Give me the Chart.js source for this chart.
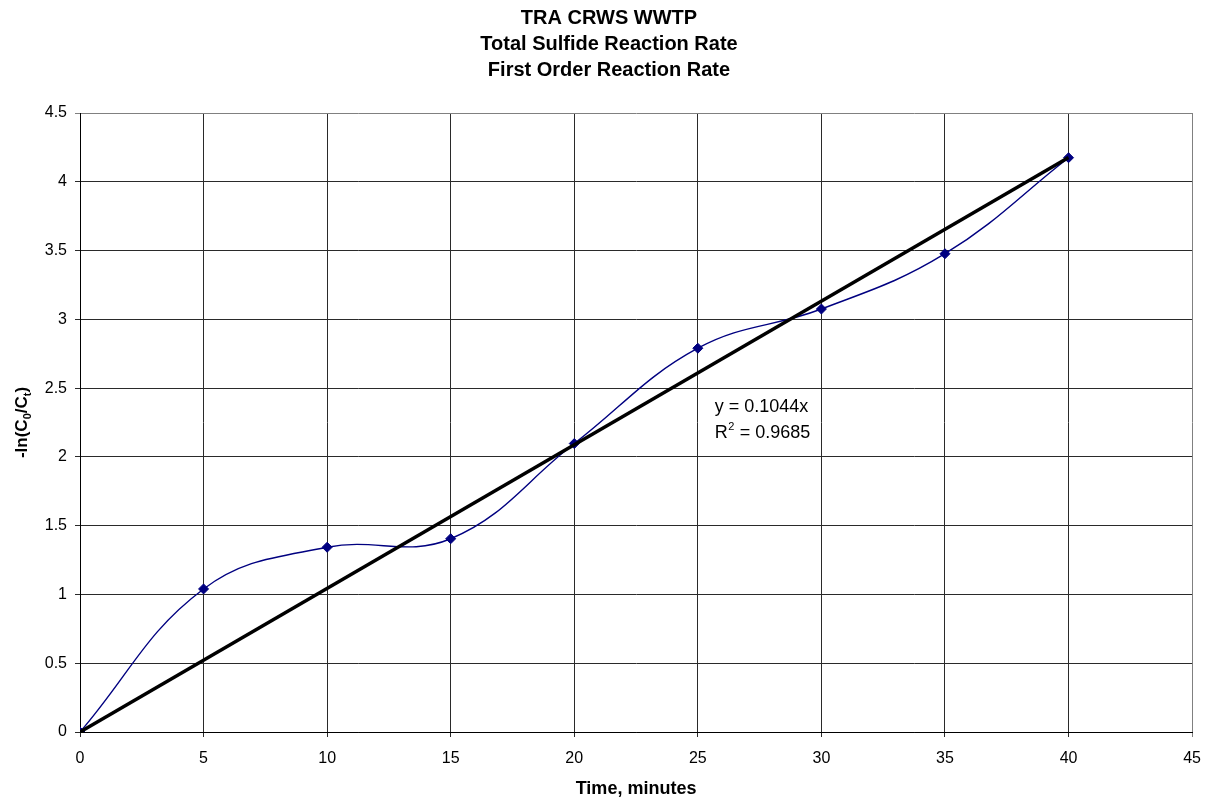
<!DOCTYPE html>
<html>
<head>
<meta charset="utf-8">
<script src="https://cdn.jsdelivr.net/npm/chart.js@4"></script>
<style>
  html, body { margin: 0; padding: 0; background: #fff; }
  #wrap { width: 1213px; height: 804px; }
</style>
</head>
<body>
<div id="wrap"><canvas id="c" width="1213" height="804"></canvas></div>
<script>
// ---- data ----
const titleLines = ['TRA CRWS WWTP', 'Total Sulfide Reaction Rate', 'First Order Reaction Rate'];
const times = [0, 5, 10, 15, 20, 25, 30, 35, 40];
const lnRatio = [0, 1.04, 1.343, 1.405, 2.097, 2.79, 3.075, 3.477, 4.175];
const trendSlope = 0.1044;
const trendR2 = 0.9685;
const trendX = [0, 40];
const xTicks = [0, 5, 10, 15, 20, 25, 30, 35, 40, 45];
const yTicks = [0, 0.5, 1, 1.5, 2, 2.5, 3, 3.5, 4, 4.5];
const xTitle = 'Time, minutes';
const annotAt = { x: 25.68, y: 2.327 };

const FONT = '"Liberation Sans", Arial, Helvetica, sans-serif';

const mainPts = times.map((t, i) => ({ x: t, y: lnRatio[i] }));
const trendPts = trendX.map(x => ({ x: x, y: +(trendSlope * x).toFixed(4) }));

const textPlugin = {
  id: 'texts',
  beforeDraw(chart) {
    const ctx = chart.ctx;
    ctx.save();
    ctx.fillStyle = '#fff';
    ctx.fillRect(0, 0, chart.width, chart.height);
    ctx.restore();
  },
  afterDraw(chart) {
    const ctx = chart.ctx;
    const xs = chart.scales.x, ys = chart.scales.y;
    ctx.save();
    ctx.fillStyle = '#000';
    // title
    ctx.font = 'bold 20px ' + FONT;
    ctx.textAlign = 'center';
    ctx.textBaseline = 'alphabetic';
    titleLines.forEach((l, i) => ctx.fillText(l, 609, 24 + i * 26));
    // x title
    ctx.font = 'bold 18px ' + FONT;
    ctx.fillText(xTitle, (xs.left + xs.right) / 2, 794);
    // y title with subscripts
    const parts = [['-ln(C', 0], ['0', 1], ['/C', 0], ['t', 1], [')', 0]];
    const mainF = 'bold 17px ' + FONT, subF = 'bold 11px ' + FONT;
    let total = 0;
    parts.forEach(p => { ctx.font = p[1] ? subF : mainF; total += ctx.measureText(p[0]).width; });
    ctx.translate(27, (ys.top + ys.bottom) / 2);
    ctx.rotate(-Math.PI / 2);
    ctx.textAlign = 'left';
    let cx = -total / 2;
    parts.forEach(p => {
      ctx.font = p[1] ? subF : mainF;
      ctx.fillText(p[0], cx, p[1] ? 4 : 0);
      cx += ctx.measureText(p[0]).width;
    });
    ctx.restore();
    // trend annotation
    ctx.save();
    ctx.fillStyle = '#000';
    ctx.textAlign = 'left';
    ctx.textBaseline = 'alphabetic';
    const ax = xs.getPixelForValue(annotAt.x);
    const ay = ys.getPixelForValue(annotAt.y);
    ctx.font = '18px ' + FONT;
    ctx.fillText('y = ' + trendSlope.toFixed(4) + 'x', ax, ay);
    const rW = ctx.measureText('R').width;
    ctx.fillText('R', ax, ay + 26);
    ctx.font = '11px ' + FONT;
    ctx.fillText('2', ax + rW + 0.5, ay + 26 - 8);
    const w2 = ctx.measureText('2').width;
    ctx.font = '18px ' + FONT;
    ctx.fillText(' = ' + trendR2.toFixed(4), ax + rW + w2 + 1, ay + 26);
    ctx.restore();
  }
};

const gridColor = (edgeVal) => (c) => (c.tick && Math.abs(c.tick.value - edgeVal) < 1e-9) ? '#808080' : '#2a2a2a';

new Chart(document.getElementById('c'), {
  type: 'scatter',
  data: {
    datasets: [
      {
        label: 'data',
        data: mainPts,
        showLine: true,
        borderColor: '#000080',
        backgroundColor: '#000080',
        borderWidth: 1.4,
        tension: 0.4,
        pointStyle: 'rectRot',
        pointRadius: 5,
        pointHoverRadius: 5,
        pointBorderWidth: 1,
        pointBorderColor: '#000080',
        pointBackgroundColor: '#000080',
        order: 2
      },
      {
        label: 'trend',
        data: trendPts,
        showLine: true,
        borderColor: '#000000',
        borderWidth: 3.5,
        pointRadius: 0,
        tension: 0,
        order: 1
      }
    ]
  },
  options: {
    responsive: false,
    animation: false,
    events: [],
    layout: { padding: { top: 113, right: 20, left: 0, bottom: 0 } },
    plugins: { legend: { display: false }, title: { display: false }, tooltip: { enabled: false } },
    scales: {
      x: {
        type: 'linear',
        min: 0, max: 45,
        afterFit(s) { s.height = 72; },
        afterBuildTicks(s) { s.ticks = xTicks.map(v => ({ value: v })); },
        ticks: { font: { family: FONT, size: 16 }, color: '#000', padding: 12, maxRotation: 0, callback: v => String(v) },
        grid: { color: gridColor(45), lineWidth: 1, tickLength: 5, drawTicks: true },
        border: { color: '#000', width: 1 }
      },
      y: {
        type: 'linear',
        min: 0, max: 4.5,
        afterFit(s) { s.width = 80; },
        afterBuildTicks(s) { s.ticks = yTicks.map(v => ({ value: v })); },
        ticks: { font: { family: FONT, size: 16 }, color: '#000', padding: 8, callback: v => String(+v.toFixed(2)) },
        grid: { color: gridColor(4.5), lineWidth: 1, tickLength: 5, drawTicks: true },
        border: { color: '#000', width: 1 }
      }
    }
  },
  plugins: [textPlugin]
});
</script>
</body>
</html>
